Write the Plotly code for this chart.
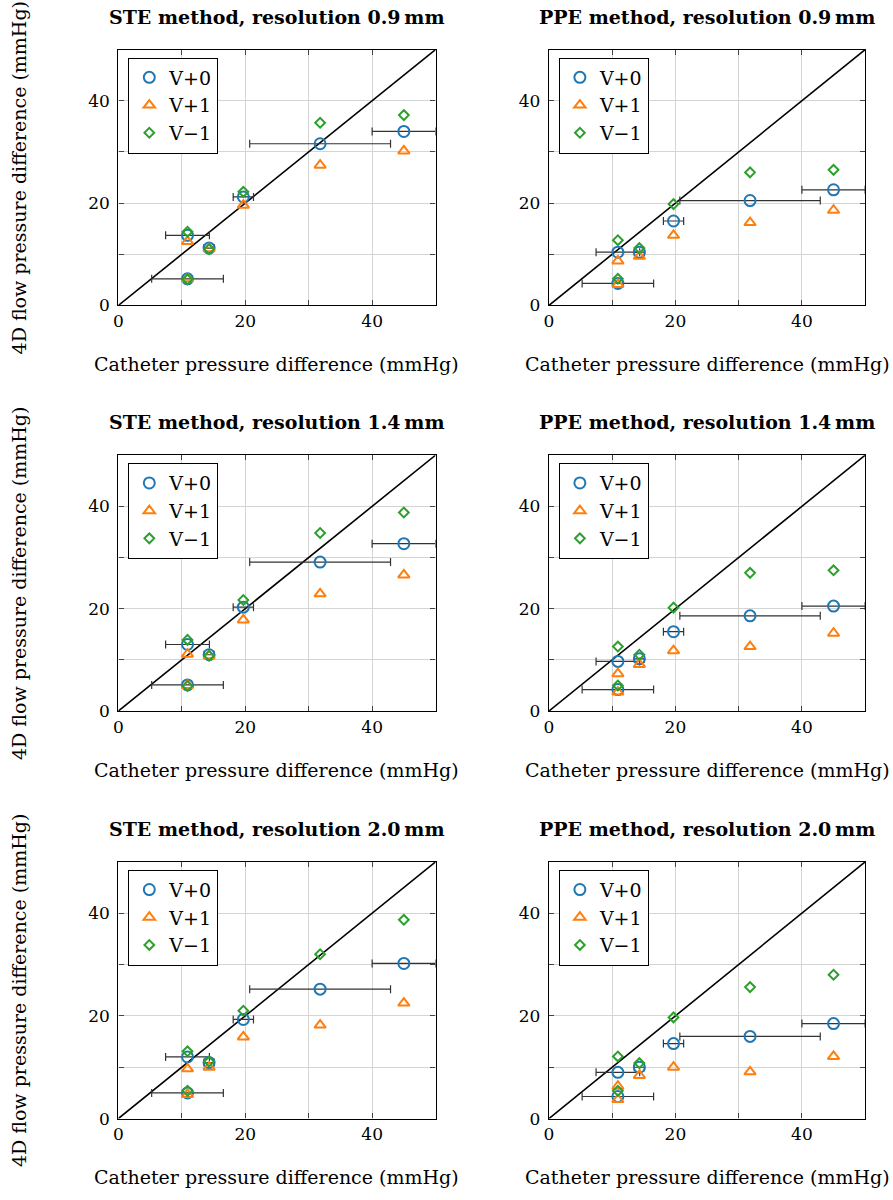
import plotly.graph_objects as go

# ---------------- data ----------------
catheter = [10.9, 10.9, 14.3, 19.7, 31.8, 45.0]
catheter_err = [5.65, 3.45, 0.8, 1.6, 11.1, 5.0]
identity = [0, 50]

series_names = ["V+0", "V+1", "V\u22121"]

ste_09_v0 = [5.2, 13.7, 11.2, 21.2, 31.6, 34.0]
ste_09_v1 = [5.2, 12.5, 11.1, 19.6, 27.4, 30.2]
ste_09_vm = [5.1, 14.4, 11.0, 22.2, 35.7, 37.2]

ppe_09_v0 = [4.3, 10.4, 10.4, 16.5, 20.5, 22.6]
ppe_09_v1 = [4.1, 8.7, 9.6, 13.7, 16.2, 18.6]
ppe_09_vm = [5.2, 12.75, 11.2, 19.8, 26.0, 26.5]

ste_14_v0 = [5.1, 13.0, 11.0, 20.3, 29.1, 32.7]
ste_14_v1 = [5.0, 11.1, 10.8, 17.8, 22.9, 26.6]
ste_14_vm = [4.9, 13.9, 10.8, 21.7, 34.8, 38.8]

ppe_14_v0 = [4.2, 9.7, 10.2, 15.5, 18.6, 20.5]
ppe_14_v1 = [3.7, 7.3, 9.1, 11.8, 12.6, 15.2]
ppe_14_vm = [5.0, 12.6, 11.0, 20.2, 27.0, 27.5]

ste_20_v0 = [5.0, 12.0, 10.9, 19.3, 25.2, 30.2]
ste_20_v1 = [4.7, 9.7, 10.0, 15.9, 18.2, 22.5]
ste_20_vm = [5.4, 13.1, 11.1, 21.0, 32.0, 38.7]

ppe_20_v0 = [4.3, 9.0, 10.0, 14.6, 16.0, 18.5]
ppe_20_v1 = [3.7, 6.3, 8.4, 10.0, 9.1, 12.1]
ppe_20_vm = [5.4, 12.1, 10.8, 19.7, 25.6, 28.0]

panel_titles = [
    "STE method, resolution 0.9\u2009mm", "PPE method, resolution 0.9\u2009mm",
    "STE method, resolution 1.4\u2009mm", "PPE method, resolution 1.4\u2009mm",
    "STE method, resolution 2.0\u2009mm", "PPE method, resolution 2.0\u2009mm",
]
panels = [
    (ste_09_v0, ste_09_v1, ste_09_vm), (ppe_09_v0, ppe_09_v1, ppe_09_vm),
    (ste_14_v0, ste_14_v1, ste_14_vm), (ppe_14_v0, ppe_14_v1, ppe_14_vm),
    (ste_20_v0, ste_20_v1, ste_20_vm), (ppe_20_v0, ppe_20_v1, ppe_20_vm),
]
tick_vals = [0, 10, 20, 30, 40, 50]
tick_text = ["0", "", "20", "", "40", ""]

x_title = "Catheter pressure difference (mmHg)"
y_title = "4D flow pressure difference (mmHg)"

# ---------------- styles ----------------
W, H = 893, 1200
FONT = "DejaVu Serif"
colors = ["#1f77b4", "#ff7f0e", "#2ca02c"]
symbols = ["circle-open", "triangle-up-open", "diamond-open"]
sizes = [11, 10, 7.5]

col_px = [(114, 433), (547, 865)]
row_px = [(50, 308), (459, 717), (869, 1128)]

fig = go.Figure()
layout = dict(
    width=W, height=H, margin=dict(l=0, r=0, t=0, b=0),
    plot_bgcolor="white", paper_bgcolor="white",
    font=dict(family=FONT, size=17, color="black"),
    annotations=[],
)

for i, (vals, title) in enumerate(zip(panels, panel_titles)):
    r, c = divmod(i, 2)
    x0, x1 = col_px[c]
    y0, y1 = row_px[r]
    n = "" if i == 0 else str(i + 1)
    xa, ya = "x" + n, "y" + n
    leg = "legend" + n
    dom_x = [x0 / W, x1 / W]
    dom_y = [1 - y1 / H, 1 - y0 / H]
    axis_common = dict(
        range=[0, 50], tickmode="array", tickvals=tick_vals, ticktext=tick_text,
        showgrid=True, gridcolor="#d4d4d4", gridwidth=1,
        showline=True, linecolor="black", linewidth=1.3, mirror="allticks",
        ticks="inside", ticklen=5, tickcolor="#444", tickwidth=1,
        zeroline=False, tickfont=dict(family=FONT, size=17, color="black"),
        fixedrange=True,
    )
    layout["xaxis" + n] = dict(axis_common, domain=dom_x, anchor=ya)
    layout["yaxis" + n] = dict(axis_common, domain=dom_y, anchor=xa, ticklabelstandoff=4)

    # identity line
    fig.add_trace(go.Scatter(x=identity, y=identity, mode="lines",
                             line=dict(color="black", width=1.6),
                             xaxis=xa, yaxis=ya, showlegend=False, hoverinfo="skip"))
    for k in range(3):
        tr = dict(x=catheter, y=vals[k], mode="markers", name=series_names[k],
                  marker=dict(symbol=symbols[k], size=sizes[k], color=colors[k],
                              line=dict(width=2, color=colors[k])),
                  xaxis=xa, yaxis=ya, legend=leg)
        if k == 0:
            tr["error_x"] = dict(type="data", array=catheter_err, symmetric=True,
                                 color="#333333", thickness=1.2, width=4)
        fig.add_trace(go.Scatter(**tr))

    layout[leg] = dict(
        x=(x0 + 10) / W, y=1 - (y0 + 8) / H, xanchor="left", yanchor="top",
        xref="paper", yref="paper",
        bgcolor="white", bordercolor="black", borderwidth=1,
        font=dict(family=FONT, size=19, color="black"),
        tracegroupgap=0, itemwidth=30,
    )

    # panel title
    layout["annotations"].append(dict(
        text="<b>" + title + "</b>", x=(x0 + x1) / 2 / W, y=1 - (y0 - 33) / H,
        xref="paper", yref="paper", showarrow=False, xanchor="center", yanchor="middle",
        font=dict(family=FONT, size=19, color="black")))
    # x title
    layout["annotations"].append(dict(
        text=x_title, x=(x0 + x1) / 2 / W, y=1 - (y1 + 59) / H,
        xref="paper", yref="paper", showarrow=False, xanchor="center", yanchor="middle",
        font=dict(family=FONT, size=19, color="black")))
    # y title (left column only)
    if c == 0:
        layout["annotations"].append(dict(
            text=y_title, x=14 / W, y=1 - ((y0 + y1) / 2) / H,
            xref="paper", yref="paper", showarrow=False, xanchor="center", yanchor="middle",
            textangle=-90, font=dict(family=FONT, size=19, color="black")))

fig.update_layout(**layout)
fig.write_html("out.html")
